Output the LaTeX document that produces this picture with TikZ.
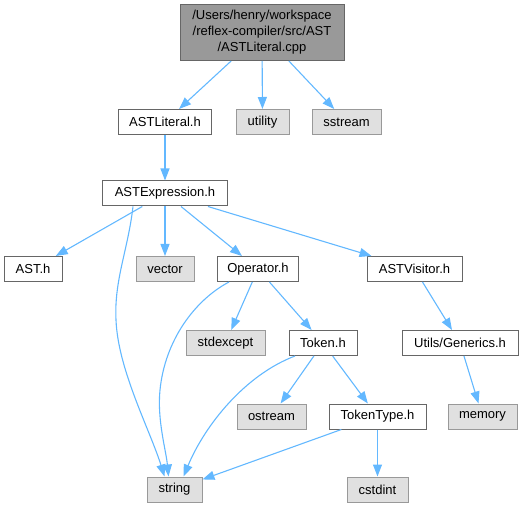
\documentclass[tikz,border=0pt]{standalone}
\usepackage{fontspec}
\setmainfont{Liberation Sans}
\usepackage{tikz}
\usetikzlibrary{arrows.meta}
\definecolor{edgeblue}{RGB}{99,184,255}
\definecolor{hdrborder}{RGB}{102,102,102}
\definecolor{sysborder}{RGB}{153,153,153}
\definecolor{sysfill}{RGB}{224,224,224}
\definecolor{rootfill}{RGB}{153,153,153}

\begin{document}
\begin{tikzpicture}[x=1pt,y=-1pt,font=\fontsize{13}{16}\selectfont,>={Triangle[length=12pt,width=9pt]},
  hdr/.style={draw=hdrborder,line width=1pt,fill=white,minimum height=25pt,inner sep=0pt},
  sys/.style={draw=sysborder,line width=1pt,fill=sysfill,minimum height=25pt,inner sep=0pt},
  dep/.style={->,edgeblue,line width=1.1pt}]

  \useasboundingbox (0,0) rectangle (523,508);

  \node[draw=hdrborder,line width=1pt,fill=rootfill,minimum width=164pt,minimum height=56pt,
        inner sep=0pt,align=center]
        (root) at (262,32.5) {/Users/henry/workspace\\/reflex-compiler/src/AST\\/ASTLiteral.cpp};

  \node[hdr,minimum width=93pt] (literal) at (165,122) {ASTLiteral.h};
  \node[sys,minimum width=53pt] (utility) at (262.5,122) {utility};
  \node[sys,minimum width=69pt] (sstream) at (346.5,122) {sstream};

  \node[hdr,minimum width=125pt] (expr) at (165,193.5) {ASTExpression.h};

  \node[hdr,minimum width=58pt] (ast) at (33,269) {AST.h};
  \node[sys,minimum width=58pt] (vector) at (165,269) {vector};
  \node[hdr,minimum width=81pt] (oper) at (258,269) {Operator.h};
  \node[hdr,minimum width=95pt] (visitor) at (414.5,269) {ASTVisitor.h};

  \node[sys,minimum width=79pt] (stdexcept) at (225.5,343) {stdexcept};
  \node[hdr,minimum width=68pt] (token) at (323,343) {Token.h};
  \node[hdr,minimum width=116pt] (generics) at (460,343) {Utils/Generics.h};

  \node[sys,minimum width=69pt] (ostream) at (271.5,416.5) {ostream};
  \node[hdr,minimum width=97pt] (tokentype) at (377.5,416.5) {TokenType.h};
  \node[sys,minimum width=69pt] (memory) at (482.5,416.5) {memory};

  \node[sys,minimum width=55pt] (string) at (174.5,489.5) {string};
  \node[sys,minimum width=61pt] (cstdint) at (377.5,489.5) {cstdint};

  \draw[dep] (root) -- (literal);
  \draw[dep] (root) -- (utility);
  \draw[dep] (root) -- (sstream);
  \draw[dep] (literal) -- (expr);
  \draw[dep] (expr) -- (ast);
  \draw[dep] (expr) -- (vector);
  \draw[dep] (expr) -- (oper);
  \draw[dep] (expr) -- (visitor);
  \draw[dep] ([xshift=-32pt]expr.south) .. controls (128,250) and (114,280) .. (116,320)
             .. controls (118,370) and (150,430) .. ([xshift=-10pt]string.north);
  \draw[dep] ([xshift=-29pt]oper.south) .. controls (195,300) and (165,340) .. (160,390)
             .. controls (157,420) and (166,450) .. ([xshift=-6pt]string.north);
  \draw[dep] (oper) -- (stdexcept);
  \draw[dep] (oper) -- (token);
  \draw[dep] (visitor) -- (generics);
  \draw[dep] (generics) -- (memory);
  \draw[dep] ([xshift=-28pt]token.south) .. controls (245,375) and (205,425) .. ([xshift=9pt]string.north);
  \draw[dep] (token) -- (ostream);
  \draw[dep] (token) -- (tokentype);
  \draw[dep] (tokentype) -- (string);
  \draw[dep] (tokentype) -- (cstdint);

\end{tikzpicture}
\end{document}
